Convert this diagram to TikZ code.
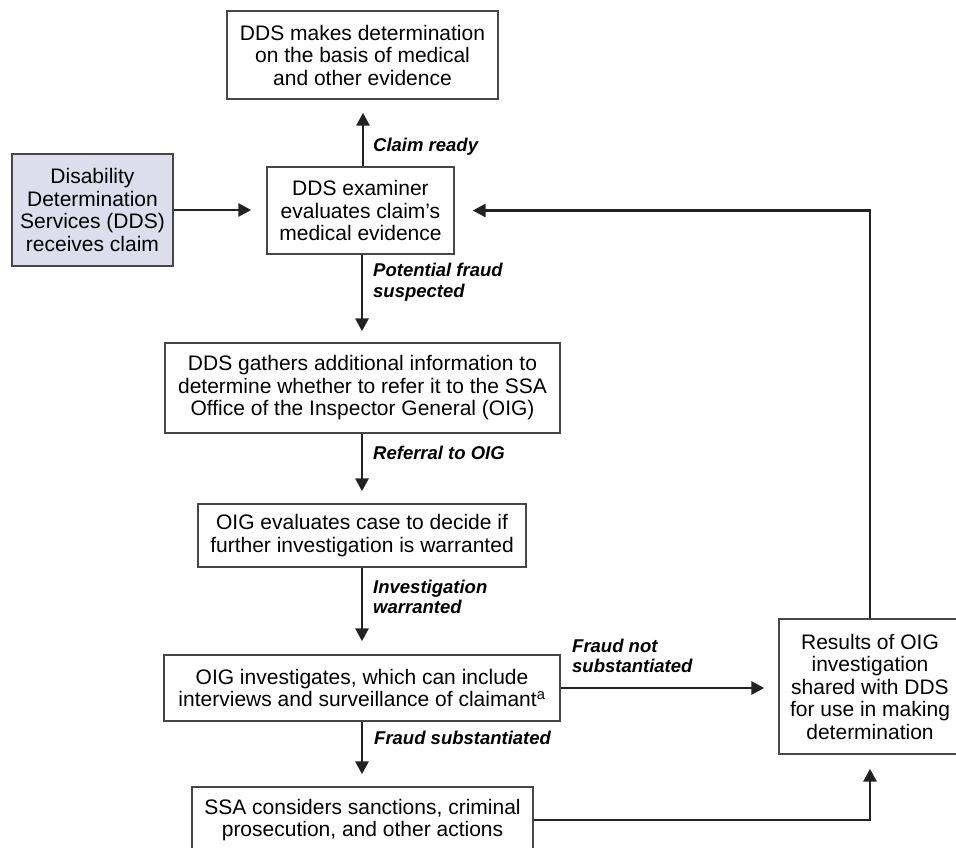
\documentclass[tikz,border=0pt]{standalone}
\usepackage{fontspec}
\setmainfont{Liberation Sans}
\usetikzlibrary{arrows.meta}
\definecolor{boxfill}{RGB}{221,221,238}
\definecolor{linecol}{RGB}{34,34,34}
\definecolor{bordercol}{RGB}{70,70,70}
\begin{document}
\begin{tikzpicture}[x=1pt,y=-1pt,
  box/.style={draw=bordercol, line width=1.4pt, align=center, inner sep=0pt,
    font=\fontsize{21}{22.5}\selectfont},
  lbl/.style={font=\fontsize{18.5}{20.5}\selectfont\bfseries\itshape, align=left, anchor=west, inner sep=0pt},
  arr/.style={line width=2.9pt, draw=linecol, -{Triangle[length=13pt,width=13pt]}},
]
\useasboundingbox (0,0) rectangle (956,848);
\node[box, minimum width=271pt, minimum height=88pt] (top) at (362.5,55)
  {DDS makes determination\\on the basis of medical\\and other evidence};
\node[box, fill=boxfill, minimum width=161pt, minimum height=112pt] (left) at (92.5,210)
  {Disability\\Determination\\Services (DDS)\\receives claim};
\node[box, minimum width=187pt, minimum height=87pt] (exam) at (360.5,210.5)
  {DDS examiner\\evaluates claim’s\\medical evidence};
\node[box, minimum width=395pt, minimum height=90pt] (gather) at (362.5,388)
  {DDS gathers additional information to\\determine whether to refer it to the SSA\\Office of the Inspector General (OIG)};
\node[box, minimum width=328pt, minimum height=63pt] (evalu) at (362,535.5)
  {OIG evaluates case to decide if\\further investigation is warranted};
\node[box, minimum width=396pt, minimum height=66pt] (inv) at (362,688)
  {OIG investigates, which can include\\interviews and surveillance of claimant\textsuperscript{a}};
\node[box, minimum width=341pt, minimum height=66pt] (ssa) at (362.5,820)
  {SSA considers sanctions, criminal\\prosecution, and other actions};
\node[box, minimum width=182pt, minimum height=135pt] (right) at (870,686.5)
  {Results of OIG\\investigation\\shared with DDS\\for use in making\\determination};

\draw[arr, shorten >=13pt] (exam.north -| 363,0) -- (top.south -| 363,0);
\draw[arr, shorten >=15pt] (left.east) -- (exam.west |- left.east);
\draw[arr, shorten >=18pt] (right.north) |- (exam.east);
\draw[arr, shorten >=11pt] (exam.south -| 362,0) -- (gather.north -| 362,0);
\draw[arr, shorten >=12pt] (gather.south -| 362,0) -- (evalu.north -| 362,0);
\draw[arr, shorten >=13pt] (evalu.south -| 362,0) -- (inv.north -| 362,0);
\draw[arr, shorten >=12pt] (inv.south -| 362,0) -- (ssa.north -| 362,0);
\draw[arr, shorten >=14pt] (inv.east) -- (inv.east -| right.west);
\draw[arr, shorten >=14pt] (ssa.east) -| (right.south);

\node[lbl] (l1) at (373,147) {Claim ready};
\node[lbl] (l2) at (373,282) {Potential fraud\\suspected};
\node[lbl] (l3) at (373,453) {Referral to OIG};
\node[lbl] (l4) at (373,597) {Investigation\\warranted};
\node[lbl] (l5) at (374,738) {Fraud substantiated};
\node[lbl] (l6) at (572,656) {Fraud not\\substantiated};
\end{tikzpicture}
\end{document}
